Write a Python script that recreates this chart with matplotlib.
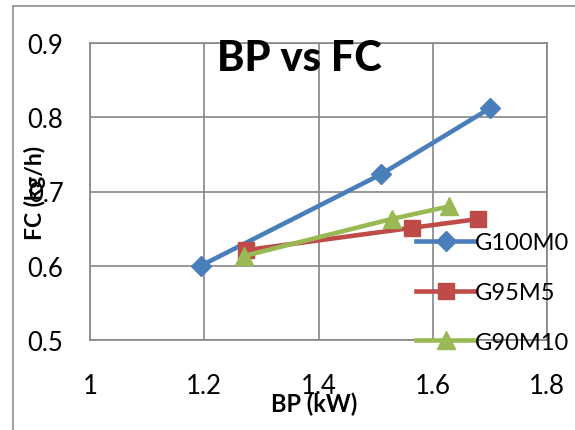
import matplotlib
matplotlib.use('Agg')
import matplotlib.pyplot as plt
from matplotlib.patches import Rectangle

plt.rcParams['font.family'] = ['Lato', 'DejaVu Sans']

# data
series = ['G100M0', 'G95M5', 'G90M10']
bp_g100 = [1.194, 1.509, 1.700]
fc_g100 = [0.600, 0.723, 0.812]
bp_g95 = [1.273, 1.563, 1.680]
fc_g95 = [0.621, 0.651, 0.663]
bp_g90 = [1.269, 1.528, 1.629]
fc_g90 = [0.613, 0.663, 0.680]
xticks = [1, 1.2, 1.4, 1.6, 1.8]
yticks = [0.5, 0.6, 0.7, 0.8, 0.9]

fig = plt.figure(figsize=(5.75, 4.31), dpi=100)
ax = fig.add_axes([90/575, 1-341/431, (547-90)/575, (341-44)/431])

# outer chart frame
fig.patches.append(Rectangle((13/575, -0.1), 1.2, (431-7)/431 + 0.1,
                             transform=fig.transFigure, fill=False,
                             edgecolor='#8c8c8c', linewidth=1.2))

ax.plot(bp_g100, fc_g100, color='#4A7EBB', lw=3.3, marker='D', ms=10,
        label=series[0], zorder=3)
ax.plot(bp_g95, fc_g95, color='#BE4B48', lw=3.3, marker='s', ms=12,
        label=series[1], zorder=3)
ax.plot(bp_g90, fc_g90, color='#98B954', lw=3.3, marker='^', ms=13,
        label=series[2], zorder=3)

ax.set_xlim(1, 1.8)
ax.set_ylim(0.5, 0.9)
ax.set_xticks(xticks)
ax.set_yticks(yticks)
ax.set_xticklabels([f'{v:g}' for v in xticks])
ax.set_yticklabels([f'{v:g}' for v in yticks])
ax.tick_params(length=0, labelsize=18.5)
ax.tick_params(axis='x', pad=24)
ax.tick_params(axis='y', pad=19)
ax.grid(True, color='#868686', lw=1.2)
ax.set_axisbelow(True)
for s in ax.spines.values():
    s.set_color('#868686')
    s.set_linewidth(1.2)

fig.text(299/575, 1-59/431, 'BP vs FC', fontsize=30, fontweight='black',
         ha='center', va='center')
fig.text(314/575, 1-404/431, 'BP (kW)', fontsize=17, fontweight='bold',
         ha='center', va='center')
fig.text(35/575, 1-193/431, 'FC (kg/h)', fontsize=16.5, fontweight='bold',
         ha='center', va='center', rotation=90)

leg = ax.legend(loc='upper left', bbox_to_anchor=(416/575, 1-233/431),
                bbox_transform=fig.transFigure, frameon=False, fontsize=17,
                handlelength=2.5, handletextpad=0.0, labelspacing=1.22,
                borderaxespad=0, borderpad=0)

fig.savefig('out.png', dpi=100)
